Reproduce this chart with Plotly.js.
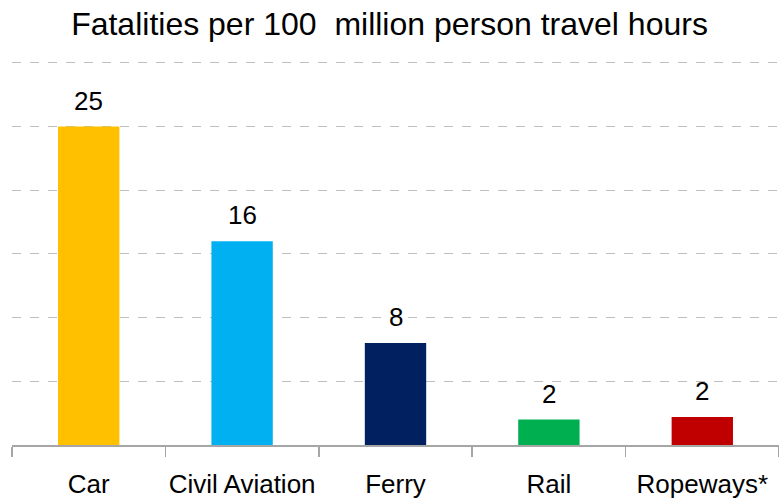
<!DOCTYPE html>
<html>
<head>
<meta charset="utf-8">
<script src="https://cdn.plot.ly/plotly-3.0.1.min.js"></script>
<style>html,body{margin:0;padding:0;background:#fff;overflow:hidden}</style>
</head>
<body>
<div id="chart" style="width:779px;height:503px"></div>
<script>
const categories = ["Car", "Civil Aviation", "Ferry", "Rail", "Ropeways*"];
const values = [25, 16, 8, 2, 2.2];
const valueLabels = ["25", "16", "8", "2", "2"];
const barColors = ["#FFC000", "#00B0F0", "#002060", "#00B050", "#C00000"];

const FONT = '"Liberation Sans Narrow", "Arial Narrow", "Liberation Sans", Arial, sans-serif';

const annotations = categories.map((c, i) => ({
  x: c, y: values[i], xref: "x", yref: "y",
  text: valueLabels[i], showarrow: false,
  xanchor: "center", yanchor: "bottom", yshift: 9,
  font: {family: FONT, size: 26, color: "#000"}
}));

Plotly.newPlot("chart", [{
  type: "bar",
  x: categories,
  y: values,
  marker: {color: barColors},
  hoverinfo: "x+y"
}], {
  width: 779,
  height: 503,
  margin: {l: 12, r: 0, t: 59, b: 58},
  paper_bgcolor: "#fff",
  plot_bgcolor: "#fff",
  bargap: 0.6,
  showlegend: false,
  annotations: annotations,
  title: {
    text: "Fatalities per 100&nbsp; million person travel hours",
    font: {family: FONT, size: 32, color: "#000"},
    x: 0.5, xanchor: "center",
    y: 0.953, yanchor: "middle"
  },
  xaxis: {
    showline: true, linecolor: "#a6a6a6", linewidth: 1.5,
    ticks: "outside", tickson: "boundaries", ticklen: 10, tickcolor: "#a6a6a6", tickwidth: 1.5,
    tickangle: 0,
    tickfont: {family: FONT, size: 26, color: "#000"},
    ticklabelstandoff: 15,
    showgrid: false, zeroline: false, fixedrange: true
  },
  yaxis: {
    range: [0, 30.3], dtick: 5, tick0: 0,
    showticklabels: false, showline: false, ticks: "",
    showgrid: true, gridcolor: "#bfbfbf", griddash: "dash", gridwidth: 1,
    zeroline: false, fixedrange: true
  }
}, {displayModeBar: false, staticPlot: true});
</script>
</body>
</html>
